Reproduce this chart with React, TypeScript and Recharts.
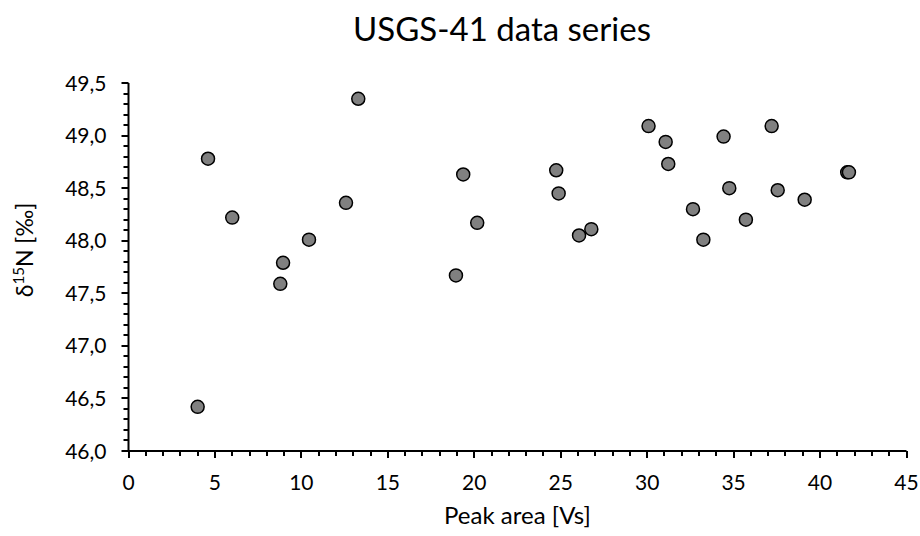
import { ScatterChart, Scatter, XAxis, YAxis } from 'recharts';

// USGS-41 measurements: peak area [Vs] vs δ15N [‰]
const peakArea = [
  4.0, 4.6, 6.0, 8.78, 8.94, 10.44, 12.58, 13.29, 18.94, 19.36,
  20.17, 24.74, 24.88, 26.06, 26.77, 30.08, 31.07, 31.22, 32.65, 33.25,
  34.42, 34.75, 35.71, 37.2, 37.55, 39.11, 41.57, 41.67,
];
const delta15N = [
  46.42, 48.78, 48.22, 47.59, 47.79, 48.01, 48.36, 49.35, 47.67, 48.63,
  48.17, 48.67, 48.45, 48.05, 48.11, 49.09, 48.94, 48.73, 48.3, 48.01,
  48.99, 48.5, 48.2, 49.09, 48.48, 48.39, 48.65, 48.65,
];

const xMajorTicks = [0, 5, 10, 15, 20, 25, 30, 35, 40, 45];
const yMajorTicks = [46.0, 46.5, 47.0, 47.5, 48.0, 48.5, 49.0, 49.5];

// minor ticks: every 1 Vs on x, every 0.1 ‰ on y
const xTicks = Array.from({ length: 46 }, (_, i) => i);
const yTicks = Array.from({ length: 36 }, (_, i) => Math.round((46 + i / 10) * 10) / 10);

const data = peakArea.map((x, i) => ({ x, y: delta15N[i] }));

const FONT = 'Lato, "Open Sans", sans-serif';

function XTick(props: any) {
  const { x, y, payload } = props;
  const v = payload.value;
  const major = xMajorTicks.includes(v);
  const xx = Math.round(x);
  return (
    <g>
      <line x1={xx} x2={xx} y1={y} y2={y + (major ? 7 : 5)} stroke="#000" strokeWidth={2} />
      {major && (
        <text x={x} y={y + 39} textAnchor="middle" fontSize={21} fontFamily={FONT} fill="#000">
          {v}
        </text>
      )}
    </g>
  );
}

function YTick(props: any) {
  const { x, y, payload } = props;
  const v = payload.value;
  const major = yMajorTicks.some((t) => Math.abs(t - v) < 1e-6);
  const yy = Math.round(y);
  return (
    <g>
      <line x1={x} x2={x - (major ? 7 : 5)} y1={yy} y2={yy} stroke="#000" strokeWidth={2} />
      {major && (
        <text x={x - 22} y={y + 7.5} textAnchor="end" fontSize={21} fontFamily={FONT} fill="#000">
          {v.toFixed(1).replace('.', ',')}
        </text>
      )}
    </g>
  );
}

function YLabel() {
  return (
    <text
      transform="translate(33,250) rotate(-90)"
      textAnchor="middle"
      fontSize={23}
      fontFamily={FONT}
      fill="#000"
    >
      δ<tspan dy={-9} fontSize={15}>15</tspan>
      <tspan dy={9}>N [‰]</tspan>
    </text>
  );
}

export default function App() {
  return (
    <div style={{ position: 'absolute', left: 0, top: 0, width: 920, height: 536, background: '#fff' }}>
      <div
        style={{
          position: 'absolute',
          left: 0,
          top: 7,
          width: 1004,
          textAlign: 'center',
          fontFamily: FONT,
          fontSize: 33,
          color: '#000',
          lineHeight: '42px',
        }}
      >
        USGS-41 data series
      </div>
      <ScatterChart width={920} height={536} margin={{ top: 83, right: 13.5, bottom: 25, left: 0 }}>
        <XAxis
          type="number"
          dataKey="x"
          domain={[0, 45]}
          ticks={xTicks}
          interval={0}
          tickSize={0}
          tickMargin={0}
          tickLine={false}
          tick={<XTick />}
          axisLine={{ stroke: '#000', strokeWidth: 2 }}
          height={60}
          allowDataOverflow
        />
        <YAxis
          type="number"
          dataKey="y"
          domain={[46, 49.5]}
          ticks={yTicks}
          interval={0}
          tickSize={0}
          tickMargin={0}
          tickLine={false}
          tick={<YTick />}
          axisLine={{ stroke: '#000', strokeWidth: 2 }}
          width={128.5}
          allowDataOverflow
        />
        <Scatter
          data={data}
          fill="#808080"
          stroke="#000"
          strokeWidth={1.5}
          shape={(p: any) => (
            <circle cx={p.cx} cy={p.cy} r={6.5} fill="#808080" stroke="#000" strokeWidth={1.5} />
          )}
          isAnimationActive={false}
        />
      </ScatterChart>
      <div
        style={{
          position: 'absolute',
          left: 128.5,
          width: 778,
          top: 499,
          textAlign: 'center',
          fontFamily: FONT,
          fontSize: 24,
          color: '#000',
          lineHeight: '32px',
        }}
      >
        Peak area [Vs]
      </div>
      <svg style={{ position: 'absolute', left: 0, top: 0 }} width={60} height={536}>
        <YLabel />
      </svg>
    </div>
  );
}
